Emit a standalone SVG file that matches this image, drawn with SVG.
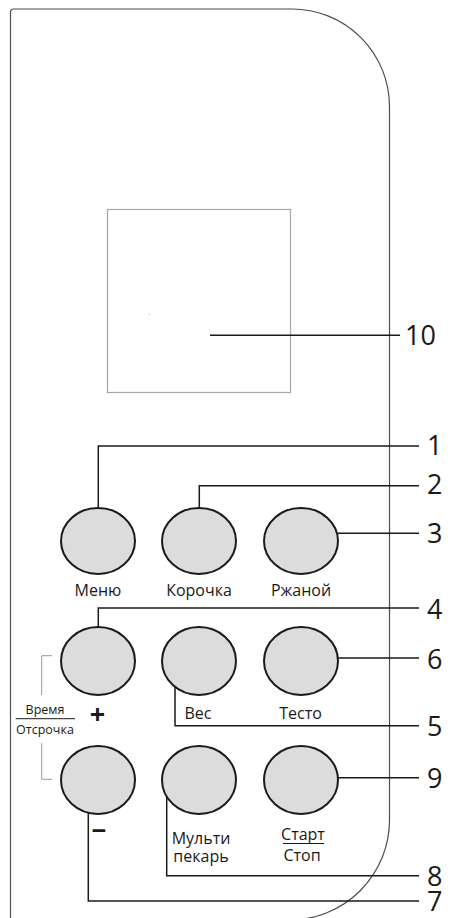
<svg xmlns="http://www.w3.org/2000/svg" width="464" height="918" viewBox="0 0 464 918">
<style>
.panel{fill:none;stroke:#4d4d4d;stroke-width:1.2}
.disp{fill:none;stroke:#a6a6a6;stroke-width:1.2}
.btn{fill:#dcdcdc;stroke:#1a1a1a;stroke-width:2}
.lead{fill:none;stroke:#1a1a1a;stroke-width:1.5}
.brk{fill:none;stroke:#999;stroke-width:1}
.lbl{font-family:"Open Sans","Noto Sans",sans-serif;font-size:16px;fill:#1a1a1a;text-anchor:middle}
.sm{font-family:"Open Sans","Noto Sans",sans-serif;font-size:12.5px;fill:#1a1a1a;text-anchor:middle}
.num{font-family:"Open Sans","Noto Sans",sans-serif;font-size:27px;fill:#1a1a1a}
.sym{font-family:"Open Sans","Noto Sans",sans-serif;font-weight:bold;fill:#1a1a1a;text-anchor:middle}
</style>
<rect width="464" height="918" fill="#fff"/>
<g id="panel">
<path class="panel" d="M10.5 930 V12 A3 3 0 0 1 13.5 9 H292 A97.5 97.5 0 0 1 389.5 106.5 V820 A100 100 0 0 1 289.5 920"/>
</g>
<g id="display">
<rect class="disp" x="107.5" y="209.5" width="183" height="183"/>
<rect x="149" y="314" width="1" height="1" fill="#bbb"/>
</g>
<g id="connectors">
<polyline class="lead" points="98.3,523 98.3,446 419,446"/>
<polyline class="lead" points="199.3,523 199.3,485.7 419,485.7"/>
<polyline class="lead" points="299.3,533.3 419,533.3"/>
<polyline class="lead" points="98.3,648 98.3,608 419,608"/>
<polyline class="lead" points="299.3,658 419,658"/>
<polyline class="lead" points="175,670.7 175,725.7 419,725.7"/>
<polyline class="lead" points="299.3,777.7 419,777.7"/>
<polyline class="lead" points="166.7,778 166.7,875.7 419,875.7"/>
<polyline class="lead" points="88.3,778 88.3,901 419,901"/>
<polyline class="lead" points="210,335.3 400,335.3"/>
</g>
<g id="btn-menu"><ellipse class="btn" cx="98" cy="541" rx="37" ry="33"/><text class="lbl" x="98" y="596">Меню</text></g>
<g id="btn-korochka"><ellipse class="btn" cx="199" cy="541" rx="37" ry="33"/><text class="lbl" x="199" y="596">Корочка</text></g>
<g id="btn-rzhanoy"><ellipse class="btn" cx="301" cy="541" rx="37" ry="33"/><text class="lbl" x="301" y="596">Ржаной</text></g>
<g id="btn-plus"><ellipse class="btn" cx="98" cy="661" rx="37" ry="34"/><text class="sym" x="97.5" y="724" font-size="27">+</text></g>
<g id="btn-ves"><ellipse class="btn" cx="199" cy="661" rx="37" ry="34"/><text class="lbl" x="198" y="719">Вес</text></g>
<g id="btn-testo"><ellipse class="btn" cx="301" cy="661" rx="37" ry="34"/><text class="lbl" x="300.5" y="719">Тесто</text></g>
<g id="btn-minus"><ellipse class="btn" cx="98" cy="780" rx="37" ry="34"/><text class="sym" x="99" y="840" font-size="26">−</text></g>
<g id="btn-multi"><ellipse class="btn" cx="199" cy="780" rx="37" ry="34"/><text class="lbl" x="201" y="844" font-size="15.5">Мульти</text><text class="lbl" x="201" y="862" font-size="15.5">пекарь</text></g>
<g id="btn-start"><ellipse class="btn" cx="301" cy="780" rx="37" ry="34"/><text class="lbl" x="303" y="840" font-size="15">Старт</text><line x1="283" y1="843.5" x2="324" y2="843.5" stroke="#1a1a1a" stroke-width="1.2"/><text class="lbl" x="302" y="861" font-size="15">Стоп</text></g>
<g id="time-delay">
<polyline class="brk" points="52.3,655.7 41.7,655.7 41.7,695"/>
<polyline class="brk" points="41.7,743 41.7,779.3 52.3,779.3"/>
<text class="sm" x="45" y="714">Время</text>
<line x1="15.7" y1="718.7" x2="75" y2="718.7" stroke="#1a1a1a" stroke-width="1"/>
<text class="sm" x="45" y="734">Отсрочка</text>
</g>
<g id="labels">
<text class="num" x="427" y="455">1</text>
<text class="num" x="427" y="494">2</text>
<text class="num" x="427" y="543">3</text>
<text class="num" x="427" y="619">4</text>
<text class="num" x="427" y="669">6</text>
<text class="num" x="427" y="736">5</text>
<text class="num" x="427" y="788">9</text>
<text class="num" x="427" y="886">8</text>
<text class="num" x="427" y="911">7</text>
<text class="num" x="405" y="345">10</text>
</g>
</svg>
